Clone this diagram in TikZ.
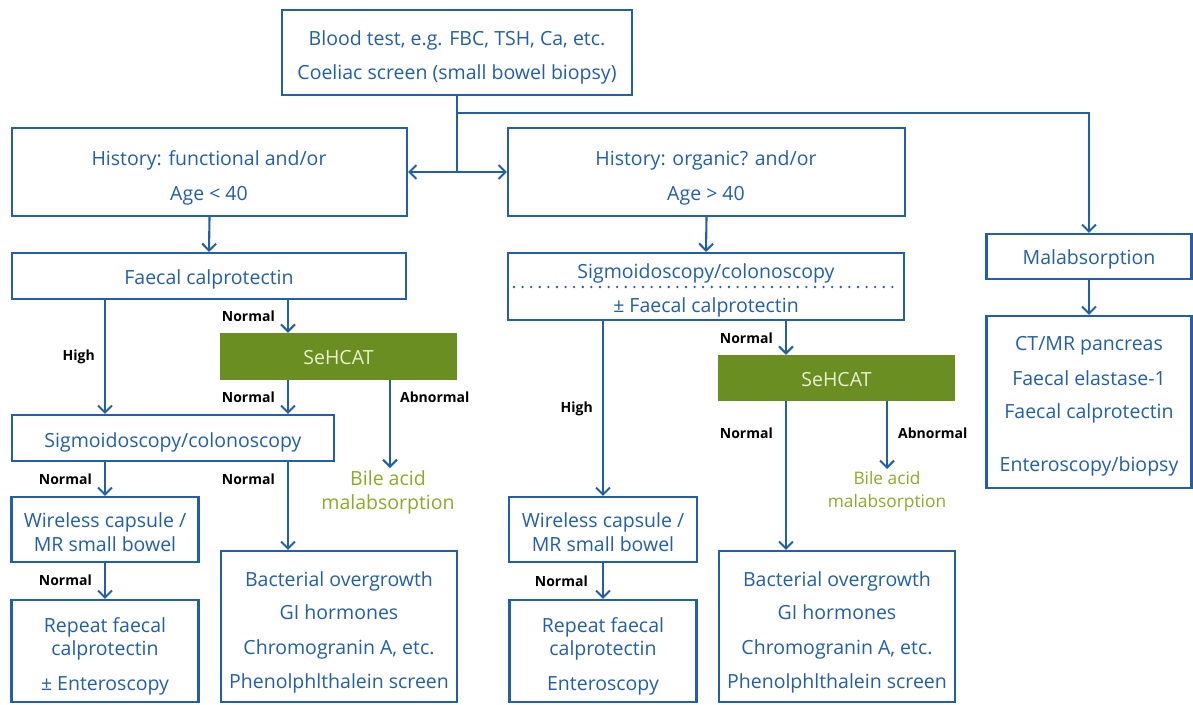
\documentclass[tikz,border=0pt]{standalone}
\usepackage{fontspec}
\setmainfont{Open Sans}
\usetikzlibrary{arrows.meta,calc}
\definecolor{bl}{RGB}{35,95,165}
\definecolor{grn}{RGB}{107,142,35}
\definecolor{gtxt}{RGB}{232,240,205}
\definecolor{bile}{RGB}{140,170,40}
\begin{document}
\begin{tikzpicture}[x=1pt,y=-1pt,
  box/.style={draw=bl, line width=2.1pt, rectangle, inner sep=0pt},
  gbox/.style={fill=grn, draw=none, rectangle, inner sep=0pt},
  txt/.style={text=bl, font=\fontsize{19.5}{22}\selectfont, anchor=base, inner sep=0pt},
  gtx/.style={text=gtxt, font=\fontsize{19.5}{22}\selectfont, anchor=base, inner sep=0pt},
  biletxt/.style={text=bile, align=center, inner sep=2pt, anchor=north},
  lab/.style={font=\fontsize{14}{16}\selectfont\bfseries, inner sep=0pt},
  arr/.style={draw=bl, line width=2.1pt, -{Straight Barb[length=7pt,width=14pt,line width=2pt]}},
  ln/.style={draw=bl, line width=2.1pt},
  dotln/.style={draw=bl, line width=2.6pt, line cap=round, dash pattern=on 0pt off 8.6pt}]
\useasboundingbox (0,0) rectangle (1193,704);
\fill[white] (0,0) rectangle (1193,704);

% ---------- boxes ----------
\node[box, minimum width=350, minimum height=85] (top) at (457,52.5) {};
\node[box, minimum width=395, minimum height=88] (histL) at (209.5,172) {};
\node[box, minimum width=397, minimum height=88] (histR) at (706.5,172) {};
\node[box, minimum width=394, minimum height=46] (fcL) at (209,276) {};
\node[gbox, minimum width=237, minimum height=47] (seL) at (338.5,356.5) {};
\node[box, minimum width=322, minimum height=46] (sigL) at (173,438) {};
\node[box, minimum width=187, minimum height=65] (wL) at (105,529.5) {};
\node[box, minimum width=187, minimum height=102] (repL) at (105,651) {};
\node[box, minimum width=236, minimum height=151] (bactL) at (339,626.5) {};
\node[box, minimum width=396, minimum height=67] (sigR) at (706,286.5) {};
\node[gbox, minimum width=237, minimum height=46] (seR) at (836.5,378) {};
\node[box, minimum width=188, minimum height=65] (wR) at (603,529.5) {};
\node[box, minimum width=187, minimum height=102] (repR) at (603,651) {};
\node[box, minimum width=236, minimum height=151] (bactR) at (837,626.5) {};
\node[box, minimum width=205, minimum height=45] (mal) at (1089,256.5) {};
\node[box, minimum width=205, minimum height=172] (ct) at (1089,402) {};

\draw[dotln] ($(sigR.west)+(7,0.5)$) -- ($(sigR.east)+(-5,0.5)$);

% ---------- texts ----------
\node[txt] (t1) at (457,45) {Blood test, e.g. FBC, TSH, Ca, etc.};
\node[txt] (t2) at (457,79) {Coeliac screen (small bowel biopsy)};
\node[txt] (hl1) at (209,165) {History: functional and/or};
\node[txt] (hl2) at (209,200) {Age < 40};
\node[txt] (hr1) at (706,165) {History: organic? and/or};
\node[txt] (hr2) at (706,200) {Age > 40};
\node[txt] (fct) at (209,284) {Faecal calprotectin};
\node[gtx] (seLt) at (338.5,364) {SeHCAT};
\node[txt] (sigLt) at (173,447) {Sigmoidoscopy/colonoscopy};
\node[txt] (wL1) at (105,527) {Wireless capsule /};
\node[txt] (wL2) at (105,551) {MR small bowel};
\node[txt] (rL1) at (105,632) {Repeat faecal};
\node[txt] (rL2) at (105,655) {calprotectin};
\node[txt] (rL3) at (105,690) {± Enteroscopy};
\node[txt] (bL1) at (339,586) {Bacterial overgrowth};
\node[txt] (bL2) at (339,619) {GI hormones};
\node[txt] (bL3) at (339,654) {Chromogranin A, etc.};
\node[txt] (bL4) at (339,688) {Phenolphlthalein screen};
\node[txt] (sR1) at (706,278) {Sigmoidoscopy/colonoscopy};
\node[txt] (sR2) at (706,312) {± Faecal calprotectin};
\node[gtx] (seRt) at (836.5,386) {SeHCAT};
\node[txt] (wR1) at (603,527) {Wireless capsule /};
\node[txt] (wR2) at (603,551) {MR small bowel};
\node[txt] (rR1) at (603,632) {Repeat faecal};
\node[txt] (rR2) at (603,655) {calprotectin};
\node[txt] (rR3) at (603,690) {Enteroscopy};
\node[txt] (bR1) at (837,586) {Bacterial overgrowth};
\node[txt] (bR2) at (837,619) {GI hormones};
\node[txt] (bR3) at (837,654) {Chromogranin A, etc.};
\node[txt] (bR4) at (837,688) {Phenolphlthalein screen};
\node[txt] (malt) at (1089,264) {Malabsorption};
\node[txt] (ct1) at (1089,350) {CT/MR pancreas};
\node[txt] (ct2) at (1089,385) {Faecal elastase-1};
\node[txt] (ct3) at (1089,418) {Faecal calprotectin};
\node[txt] (ct4) at (1089,471) {Enteroscopy/biopsy};

\node[biletxt, font=\fontsize{19.5}{24}\selectfont] (bileL) at (388,468) {Bile acid\\malabsorption};
\node[biletxt, font=\fontsize{17.3}{23}\selectfont] (bileR) at (887,469) {Bile acid\\malabsorption};

% ---------- x guides ----------
\coordinate (xa) at (105,0);
\coordinate (xb) at (288,0);
\coordinate (xc) at (390,0);
\coordinate (xd) at (786,0);
\coordinate (xe) at (887,0);
\coordinate (j1) at (457,172);
\coordinate (j2) at (457,113);

% ---------- connectors ----------
\draw[ln] (top.south) -- (j1);
\draw[arr] (j1) -- (histL.east);
\draw[arr] (j1) -- (histR.west);
\draw[arr] (j2) -| (mal.north);
\draw[arr] (histL.south) -- (fcL.north);
\draw[arr] (histR.south) -- (sigR.north);
\draw[arr] (fcL.south -| xa) -- (sigL.north -| xa);
\draw[arr] (fcL.south -| xb) -- (seL.north -| xb);
\draw[arr] (seL.south -| xb) -- (sigL.north -| xb);
\draw[arr] (seL.south -| xc) -- (bileL.north -| xc);
\draw[arr] (sigL.south -| wL.north) -- (wL.north);
\draw[arr] (sigL.south -| xb) -- (bactL.north -| xb);
\draw[arr] (wL.south) -- (repL.north);
\draw[arr] (sigR.south -| wR.north) -- (wR.north);
\draw[arr] (sigR.south -| xd) -- (seR.north -| xd);
\draw[arr] (seR.south -| xd) -- (bactR.north -| xd);
\draw[arr] (seR.south -| xe) -- (bileR.north -| xe);
\draw[arr] (wR.south) -- (repR.north);
\draw[arr] (mal.south) -- (ct.north);

% ---------- labels ----------
\node[lab, anchor=base east] (l1) at (275,321) {Normal};
\node[lab, anchor=base east] (l2) at (95,360) {High};
\node[lab, anchor=base east] (l3) at (275,402) {Normal};
\node[lab, anchor=base west] (l4) at (400,402) {Abnormal};
\node[lab, anchor=base east] (l5) at (92,484) {Normal};
\node[lab, anchor=base east] (l6) at (275,484) {Normal};
\node[lab, anchor=base east] (l7) at (92,585) {Normal};
\node[lab, anchor=base east] (l8) at (773,343) {Normal};
\node[lab, anchor=base east] (l9) at (593,412) {High};
\node[lab, anchor=base east] (l10) at (773,438) {Normal};
\node[lab, anchor=base west] (l11) at (898,438) {Abnormal};
\node[lab, anchor=base east] (l12) at (588,586) {Normal};
\end{tikzpicture}
\end{document}
